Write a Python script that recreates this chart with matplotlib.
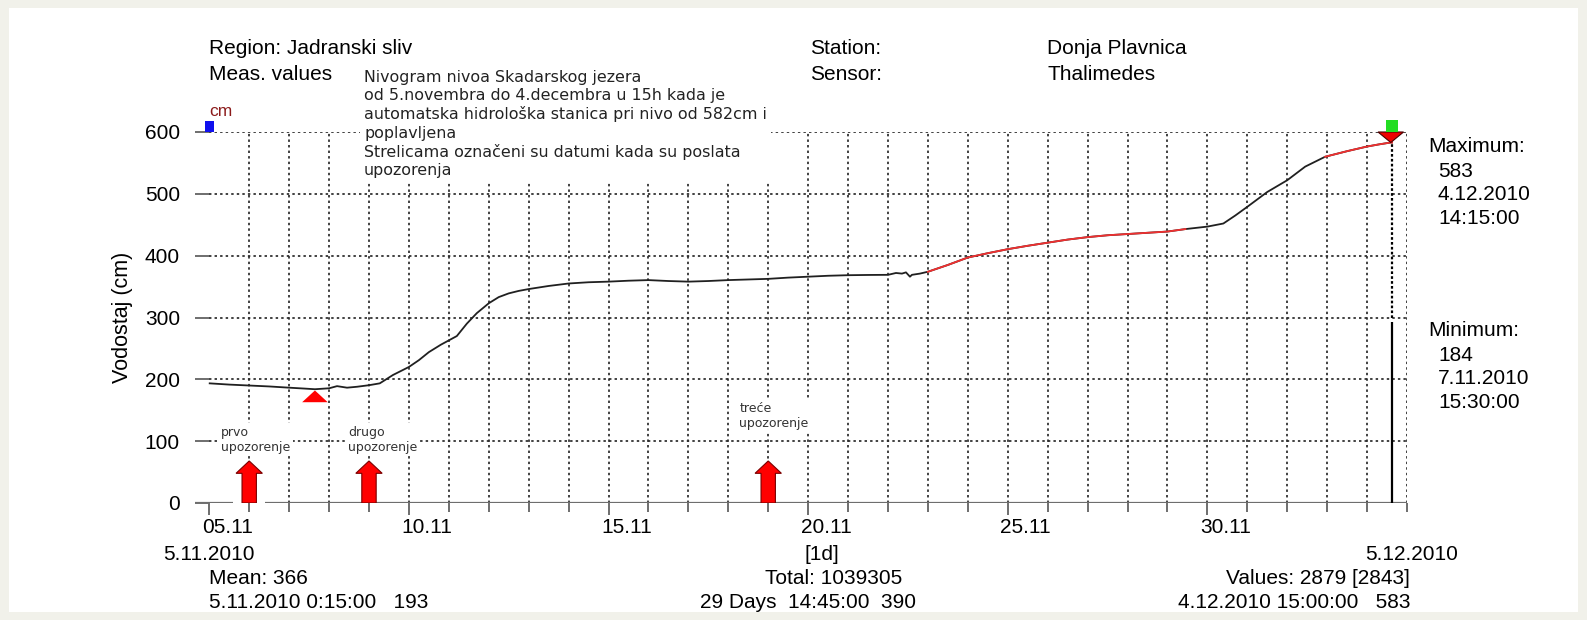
import matplotlib
matplotlib.use('Agg')
import matplotlib.pyplot as plt
from matplotlib.patches import Polygon, Rectangle
from matplotlib.transforms import ScaledTranslation

W, H = 1587, 620

'''Measured water level (cm), time in days from 5.11.2010 00:00'''
days = [0.01, 0.5, 1.0, 1.5, 2.0, 2.4, 2.646, 3.0, 3.2, 3.45, 3.7, 4.0, 4.27,
        4.6, 5.0, 5.25, 5.5, 5.8, 6.0, 6.2, 6.45, 6.7, 7.0, 7.25, 7.5, 7.75,
        8.0, 8.5, 9.0, 9.5, 10.0, 10.5, 11.0, 11.5, 12.0, 12.5, 13.0, 13.5,
        14.0, 14.5, 15.0, 15.5, 16.0, 16.5, 17.0, 17.2, 17.35, 17.45, 17.55,
        17.6, 17.8, 18.0, 18.5, 19.0, 19.5, 20.0, 20.5, 21.0, 21.5, 22.0,
        22.5, 23.0, 23.5, 24.0, 24.45, 25.0, 25.4, 25.7, 26.0, 26.5, 27.0,
        27.45, 27.95, 28.5, 29.0, 29.3, 29.594, 29.625]
level = [193.5, 191.5, 190, 188.5, 186.5, 185, 184, 185.5, 189, 186.5, 188,
         190.5, 193.5, 207, 220, 231, 244, 256, 263, 270, 290, 307, 323, 333,
         339, 343, 346, 351, 355, 357, 358, 359.5, 360.5, 359, 358, 359,
         360.5, 361.5, 362.5, 364.5, 366, 367.5, 368.4, 368.8, 369, 372, 371,
         373, 366, 369, 371, 374, 385, 397, 404, 410.5, 416, 421, 426, 430,
         433, 435, 437, 439, 443, 447, 452, 465, 479, 503, 522, 544, 560,
         569, 576.5, 580, 583, 583]
red_spans = [(18.0, 24.45), (27.95, 29.625)]

v_max, d_max = 583, 29.594
v_min, d_min = 184, 2.646
d_last = 29.625

warn_days = [1, 4, 14]
warn_labels = ['prvo\nupozorenje', 'drugo\nupozorenje', 'treće\nupozorenje']
warn_label_x = [0.3, 3.47, 13.28]
warn_label_y = [102, 102, 141]

date_ticks = [0, 5, 10, 15, 20, 25]
date_labels = ['05.11', '10.11', '15.11', '20.11', '25.11', '30.11']
day_ticks = list(range(0, 31))
y_ticks = [0, 100, 200, 300, 400, 500, 600]

note = ('Nivogram nivoa Skadarskog jezera\n'
        'od 5.novembra do 4.decembra u 15h kada je\n'
        'automatska hidrološka stanica pri nivo od 582cm i\n'
        'poplavljena\n'
        'Strelicama označeni su datumi kada su poslata\n'
        'upozorenja')

plt.rcParams['font.family'] = ['Liberation Sans', 'DejaVu Sans']

fig = plt.figure(figsize=(W / 100, H / 100), dpi=100)
fig.patch.set_facecolor('#f1f1ea')
fig.add_artist(Rectangle((9 / W, 8 / H), (W - 18) / W, (H - 16) / H,
                         transform=fig.transFigure, facecolor='white',
                         edgecolor='none', zorder=0))


def px(x, y):
    return x / W, 1 - y / H


ax = fig.add_axes([195 / W, 1 - 503 / H, (1407 - 195) / W, (503 - 132) / H])
ax.set_facecolor('none')
ax.set_xlim(-0.358, 30)
ax.set_ylim(0, 600)
for s in ax.spines.values():
    s.set_visible(False)

grid_kw = dict(color='#2a2a2a', lw=1.25, linestyles=(0, (1.4, 1.8)), zorder=1)
ax.hlines(y_ticks[1:], 0, 30, **grid_kw)
ax.vlines(day_ticks[1:], 0, 600, **grid_kw)

ax.axhline(0, color='#6e6e6e', lw=1.6, zorder=2.5)

ax.set_xticks(date_ticks, date_labels)
ax.set_xticks([d for d in day_ticks if d not in date_ticks], minor=True)
ax.tick_params(axis='x', which='major', direction='out', length=8.6, width=1.4,
               color='#6e6e6e', pad=2, labelsize=15)
ax.tick_params(axis='x', which='minor', direction='out', length=6.5, width=1.4,
               color='#6e6e6e')
shift = ScaledTranslation(0.18, 0, fig.dpi_scale_trans)
for lab in ax.get_xticklabels():
    lab.set_transform(lab.get_transform() + shift)
ax.xaxis.set_zorder(3)

ax.set_yticks(y_ticks)
ax.tick_params(axis='y', direction='in', length=10, width=1.4,
               color='#6e6e6e', pad=10.8, labelsize=15)

# curve
ax.plot(days, level, color='#202020', lw=1.3, zorder=4)
for a, b in red_spans:
    dd = [d for d in days if a <= d <= b]
    vv = [v for d, v in zip(days, level) if a <= d <= b]
    ax.plot(dd, vv, color='#f03030', lw=1.3, zorder=4)

# cursor line at last value
ax.vlines(d_last, 0, 292, color='black', lw=1.6, zorder=4)
ax.vlines(d_last, 300, v_max, color='black', lw=1.6,
          linestyles=(0, (1.2, 1.0)), zorder=4)

# min / max markers
ax.add_patch(Polygon([(d_min, v_min - 2), (d_min + 0.32, v_min - 21),
                      (d_min - 0.32, v_min - 21)], closed=True,
                     facecolor='#ff0000', edgecolor='none', zorder=5,
                     clip_on=False))
ax.add_patch(Polygon([(d_max, v_max), (d_max + 0.32, 600), (d_max - 0.32, 600)],
                     closed=True, facecolor='#ee0000', edgecolor='#4a0000',
                     lw=0.8, zorder=5, clip_on=False))
ax.add_patch(Rectangle((d_max - 0.13, 600), 0.3, 20, facecolor='#22dd22',
                       edgecolor='none', zorder=5, clip_on=False))
ax.add_patch(Rectangle((-0.12, 600), 0.25, 17, facecolor='#1010ee',
                       edgecolor='none', zorder=5, clip_on=False))

# warning arrows
ax.add_patch(Rectangle((warn_days[0] - 0.4, -3), 0.8, 8, facecolor='white',
                       edgecolor='none', zorder=2.6, clip_on=False))
for d in warn_days:
    ax.add_patch(Polygon([(d - 0.18, 0), (d + 0.18, 0), (d + 0.18, 48),
                          (d + 0.33, 48), (d, 68), (d - 0.33, 48),
                          (d - 0.18, 48)], closed=True, facecolor='#ff0000',
                         edgecolor='#7a0000', lw=0.8, zorder=5))
for x, y, t in zip(warn_label_x, warn_label_y, warn_labels):
    ax.text(x, y, t, family='DejaVu Sans', fontsize=9, color='#333333',
            ha='left', va='center', linespacing=1.15, zorder=3,
            bbox=dict(facecolor='white', edgecolor='none', pad=2))

ax.set_ylabel('Vodostaj (cm)', fontsize=15.5)
ax.yaxis.set_label_coords(-(195 - 133) / (1407 - 195), 0.5)

# header and notes
fs = 15
fig.text(*px(209, 49), 'Region: Jadranski sliv', fontsize=fs, va='center')
fig.text(*px(209, 75), 'Meas. values', fontsize=fs, va='center')
fig.text(*px(810, 49), 'Station:', fontsize=fs, va='center')
fig.text(*px(810, 75), 'Sensor:', fontsize=fs, va='center')
fig.text(*px(1047, 49), 'Donja Plavnica', fontsize=fs, va='center')
fig.text(*px(1047, 75), 'Thalimedes', fontsize=fs, va='center')
fig.text(*px(209, 111), 'cm', fontsize=12.5, color='#8b1a1a', va='center')
fig.text(*px(364, 124), note, family='DejaVu Sans', fontsize=11.4,
         color='#222222', va='center', linespacing=1.27, zorder=3,
         bbox=dict(facecolor='white', edgecolor='none', pad=3))

fig.text(*px(1428, 147), 'Maximum:', fontsize=fs, va='center')
fig.text(*px(1438, 171), str(v_max), fontsize=fs, va='center')
fig.text(*px(1438, 195), '4.12.2010', fontsize=fs, va='center')
fig.text(*px(1438, 219), '14:15:00', fontsize=fs, va='center')
fig.text(*px(1428, 331), 'Minimum:', fontsize=fs, va='center')
fig.text(*px(1438, 355), str(v_min), fontsize=fs, va='center')
fig.text(*px(1438, 379), '7.11.2010', fontsize=fs, va='center')
fig.text(*px(1438, 403), '15:30:00', fontsize=fs, va='center')

# footer statistics
fig.text(*px(209, 554), '5.11.2010', fontsize=fs, ha='center', va='center')
fig.text(*px(822, 554), '[1d]', fontsize=fs, ha='center', va='center')
fig.text(*px(1412, 554), '5.12.2010', fontsize=fs, ha='center', va='center')
fig.text(*px(209, 579), 'Mean: 366', fontsize=fs, va='center')
fig.text(*px(209, 603), '5.11.2010 0:15:00   193', fontsize=fs, va='center')
fig.text(*px(834, 579), 'Total: 1039305', fontsize=fs, ha='center', va='center')
fig.text(*px(808, 603), '29 Days  14:45:00  390', fontsize=fs, ha='center',
         va='center')
fig.text(*px(1410, 579), 'Values: 2879 [2843]', fontsize=fs, ha='right',
         va='center')
fig.text(*px(1410, 603), '4.12.2010 15:00:00   583', fontsize=fs, ha='right',
         va='center')

plt.savefig('out.png', dpi=100, facecolor=fig.get_facecolor())
